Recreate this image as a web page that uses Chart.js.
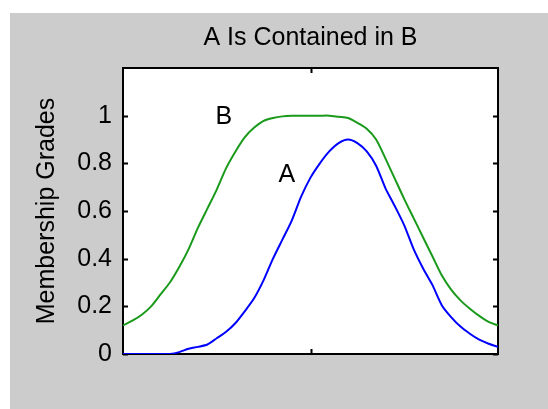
<!DOCTYPE html>
<html>
<head>
<meta charset="utf-8">
<script src="https://cdn.jsdelivr.net/npm/chart.js@4.4.0/dist/chart.umd.min.js"></script>
<style>
  html, body { margin: 0; padding: 0; background: #fff; }
  #wrap { width: 548px; height: 409px; }
</style>
</head>
<body>
<div id="wrap"><canvas id="chart" width="548" height="409"></canvas></div>
<script>
// membership grades, universe 0..10 in steps of 0.25
const xValues = [0, 0.25, 0.5, 0.75, 1, 1.25, 1.5, 1.75, 2, 2.25, 2.5, 2.75, 3, 3.25, 3.5, 3.75, 4, 4.25, 4.5, 4.75,
  5, 5.25, 5.5, 5.75, 6, 6.25, 6.5, 6.75, 7, 7.25, 7.5, 7.75, 8, 8.25, 8.5, 8.75, 9, 9.25, 9.5, 9.75, 10];
const setA = [0, 0, 0, 0, 0, 0, 0.008, 0.022, 0.03, 0.04, 0.066, 0.093, 0.13, 0.18, 0.235, 0.31, 0.40, 0.48, 0.56, 0.66,
  0.74, 0.80, 0.85, 0.885, 0.90, 0.885, 0.85, 0.79, 0.695, 0.62, 0.54, 0.44, 0.36, 0.29, 0.205, 0.155, 0.115, 0.085, 0.06, 0.043, 0.03];
const setB = [0.12, 0.14, 0.165, 0.20, 0.25, 0.30, 0.365, 0.44, 0.53, 0.61, 0.69, 0.78, 0.85, 0.91, 0.95, 0.978, 0.99, 0.997, 1.0, 1.0,
  1.0, 1.0, 1.0, 0.995, 0.99, 0.97, 0.945, 0.90, 0.82, 0.735, 0.65, 0.57, 0.49, 0.41, 0.33, 0.27, 0.225, 0.19, 0.16, 0.135, 0.12];
const yTicks = [0, 0.2, 0.4, 0.6, 0.8, 1];
const xTicks = [5];

const FONT = "'Liberation Sans', Arial, sans-serif";

// text labels next to the curves (data coords)
const curveLabels = [
  { text: 'B', x: 2.69, y: 1.0 },
  { text: 'A', x: 4.37, y: 0.754 }
];

const toPoints = vals => xValues.map((x, i) => ({ x: x, y: vals[i] }));

// gray figure, white axes box, black frame with inward ticks
const matlabFrame = {
  id: 'matlabFrame',
  beforeDraw(chart) {
    const ctx = chart.ctx;
    const a = chart.chartArea;
    ctx.save();
    ctx.fillStyle = '#ffffff';
    ctx.fillRect(0, 0, chart.width, chart.height);
    ctx.fillStyle = '#cccccc';
    ctx.fillRect(10, 13, chart.width - 10, chart.height - 13);
    ctx.fillStyle = '#ffffff';
    ctx.fillRect(a.left, a.top, a.right - a.left, a.bottom - a.top);
    ctx.restore();
  },
  beforeDatasetsDraw(chart) {
    const ctx = chart.ctx;
    const a = chart.chartArea;
    const xs = chart.scales.x, ys = chart.scales.y;
    ctx.save();
    ctx.strokeStyle = '#000';
    ctx.lineWidth = 2;
    ctx.strokeRect(a.left, a.top, a.right - a.left, a.bottom - a.top);
    ctx.beginPath();
    yTicks.forEach(v => {
      const py = Math.round(ys.getPixelForValue(v)) + 0.5;
      ctx.moveTo(a.left, py); ctx.lineTo(a.left + 5, py);
      ctx.moveTo(a.right, py); ctx.lineTo(a.right - 5, py);
    });
    xTicks.forEach(v => {
      const px = Math.round(xs.getPixelForValue(v)) + 0.5;
      ctx.moveTo(px, a.bottom); ctx.lineTo(px, a.bottom - 5);
      ctx.moveTo(px, a.top); ctx.lineTo(px, a.top + 5);
    });
    ctx.stroke();
    ctx.restore();
  },
  afterDatasetsDraw(chart) {
    const ctx = chart.ctx;
    const xs = chart.scales.x, ys = chart.scales.y;
    ctx.save();
    ctx.fillStyle = '#000';
    ctx.font = '25px ' + FONT;
    ctx.textAlign = 'center';
    ctx.textBaseline = 'middle';
    curveLabels.forEach(l => {
      ctx.fillText(l.text, xs.getPixelForValue(l.x), ys.getPixelForValue(l.y) + 1);
    });
    ctx.restore();
  }
};

new Chart(document.getElementById('chart'), {
  type: 'line',
  data: {
    datasets: [
      { label: 'A', data: toPoints(setA), borderColor: '#0000ff', borderWidth: 2, pointRadius: 0, tension: 0.25 },
      { label: 'B', data: toPoints(setB), borderColor: '#1a9a1a', borderWidth: 2, pointRadius: 0, tension: 0.25 }
    ]
  },
  options: {
    responsive: false,
    animation: false,
    devicePixelRatio: 1,
    layout: { padding: { left: 0, top: 0, right: 50, bottom: 55 } },
    plugins: {
      legend: { display: false },
      tooltip: { enabled: false },
      title: {
        display: true,
        text: 'A Is Contained in B',
        fullSize: false,
        color: '#000',
        font: { family: FONT, size: 25, weight: 'normal', lineHeight: 1.2 },
        padding: { top: 23, bottom: 15 }
      }
    },
    scales: {
      x: {
        type: 'linear',
        min: 0,
        max: 10,
        display: false
      },
      y: {
        min: 0,
        max: 1.2,
        grid: { display: false, drawTicks: false },
        border: { display: false },
        afterFit(scale) { scale.width = 123; },
        ticks: {
          stepSize: 0.2,
          padding: 11,
          color: '#000',
          font: { family: FONT, size: 25 },
          callback: v => (v > 1.05 ? '' : String(Number(v.toFixed(1))))
        },
        title: {
          display: true,
          text: 'Membership Grades',
          color: '#000',
          font: { family: FONT, size: 25, lineHeight: 1.2 },
          padding: { top: 32 }
        }
      }
    }
  },
  plugins: [matlabFrame]
});
</script>
</body>
</html>
